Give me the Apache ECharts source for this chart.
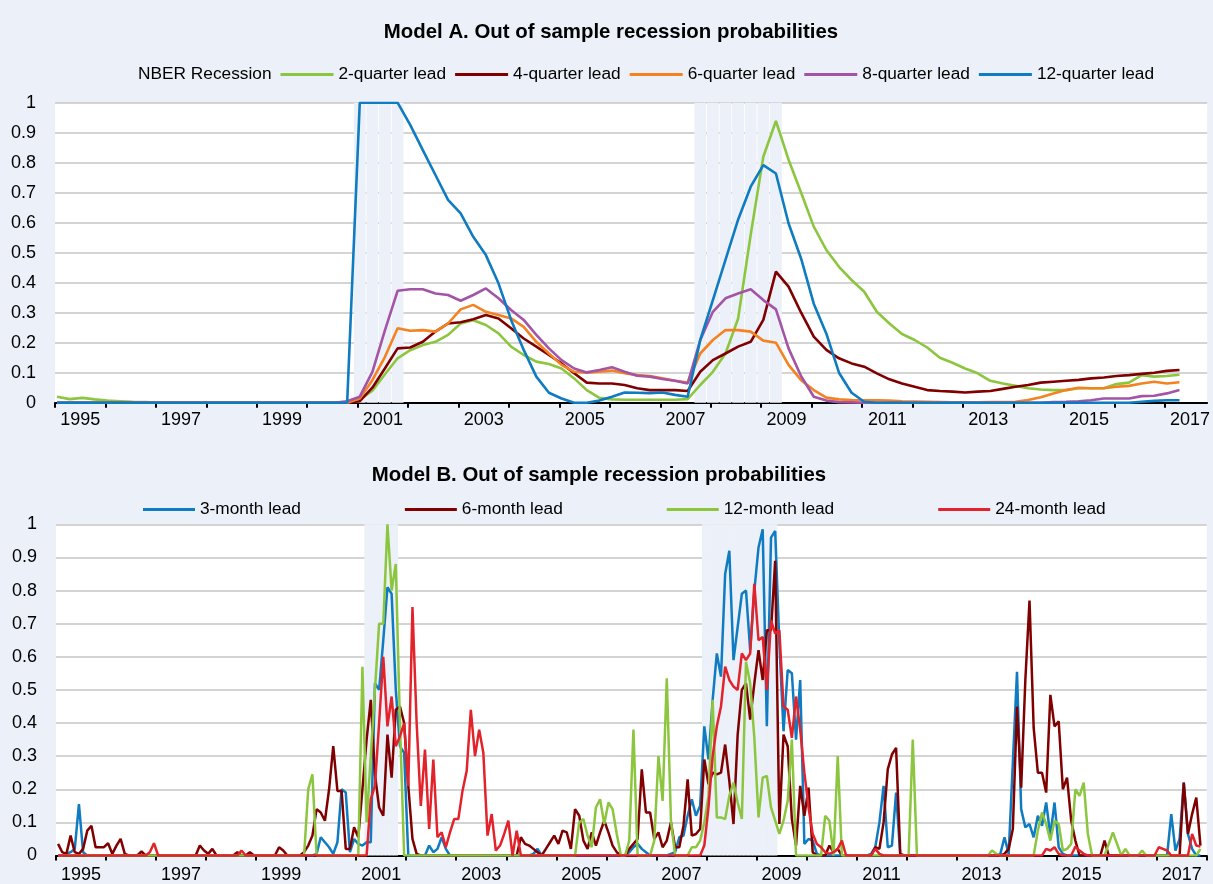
<!DOCTYPE html>
<html><head><meta charset="utf-8">
<script src="https://cdn.jsdelivr.net/npm/echarts@6/dist/echarts.min.js"></script>
<style>html,body{margin:0;padding:0;background:#ECF0F8}#c{width:1213px;height:884px}</style>
</head><body><div id="c"></div><script>
// ---------- DATA ----------
const quarterStartYear = 1995;   // quarterly series start 1995Q1
const monthStartYear = 1995;     // monthly series start 1995-01
const yearTicks = [1995,1996,1997,1998,1999,2000,2001,2002,2003,2004,2005,2006,2007,2008,2009,2010,2011,2012,2013,2014,2015,2016,2017];
const yearTicksB = yearTicks.concat([2018]);
const yearLabels = [1995,1997,1999,2001,2003,2005,2007,2009,2011,2013,2015,2017];

// Model A (quarterly), rows = years 1995..2017
const nberQuarters = ['2001Q1','2001Q2','2001Q3','2001Q4','2007Q4','2008Q1','2008Q2','2008Q3','2008Q4','2009Q1','2009Q2'];
const lead2q = [
 0.02,0.012,0.016,0.011, 0.007,0.005,0.003,0.002, 0,0,0,0, 0,0,0,0, 0,0,0,0, 0,0,0,0,
 0.01,0.04,0.095,0.148, 0.175,0.192,0.203,0.226, 0.264,0.275,0.259,0.231, 0.187,0.159,0.137,0.129,
 0.114,0.081,0.042,0.016, 0.011,0.01,0.01,0.01, 0.01,0.01,0.012,0.059, 0.103,0.164,0.28,0.56,
 0.82,0.939,0.81,0.70, 0.587,0.509,0.453,0.409, 0.37,0.303,0.264,0.229, 0.209,0.184,0.15,0.133,
 0.114,0.098,0.073,0.064, 0.056,0.048,0.044,0.042, 0.042,0.048,0.048,0.048, 0.062,0.067,0.092,0.087,
 0.089,0.093];
const lead4q = [
 0,0,0,0, 0,0,0,0, 0,0,0,0, 0,0,0,0, 0,0,0,0, 0,0,0,0,
 0.005,0.05,0.115,0.181, 0.184,0.203,0.237,0.264, 0.268,0.278,0.292,0.281, 0.248,0.214,0.187,0.159,
 0.131,0.098,0.067,0.064, 0.064,0.059,0.048,0.042, 0.042,0.042,0.039,0.103, 0.142,0.164,0.187,0.203,
 0.276,0.437,0.387,0.30, 0.22,0.176,0.148,0.131, 0.12,0.098,0.078,0.064, 0.053,0.042,0.039,0.037,
 0.034,0.037,0.039,0.046, 0.053,0.059,0.067,0.07, 0.073,0.076,0.081,0.084, 0.089,0.092,0.096,0.1,
 0.106,0.109];
const lead6q = [
 0,0,0,0, 0,0,0,0, 0,0,0,0, 0,0,0,0, 0,0,0,0, 0,0,0,0,
 0.014,0.075,0.153,0.248, 0.24,0.242,0.237,0.264, 0.311,0.326,0.303,0.292, 0.281,0.253,0.203,0.164,
 0.126,0.103,0.1,0.103, 0.107,0.098,0.092,0.089, 0.081,0.073,0.067,0.164, 0.209,0.242,0.242,0.237,
 0.207,0.2,0.126,0.075, 0.042,0.017,0.011,0.009, 0.008,0.008,0.007,0.005, 0.004,0.003,0.002,0.001,
 0.001,0.001,0.002,0.002, 0.003,0.009,0.018,0.031, 0.042,0.05,0.048,0.048, 0.053,0.056,0.064,0.07,
 0.064,0.068];
const lead8q = [
 0,0,0,0, 0,0,0,0, 0,0,0,0, 0,0,0,0, 0,0,0,0, 0,0,0,0.005,
 0.02,0.103,0.242,0.373, 0.378,0.378,0.364,0.359, 0.34,0.359,0.381,0.348, 0.309,0.276,0.226,0.181,
 0.142,0.114,0.101,0.109, 0.118,0.103,0.09,0.087, 0.079,0.073,0.064,0.209, 0.303,0.348,0.364,0.378,
 0.342,0.311,0.181,0.088, 0.02,0.007,0.002,0.001, 0,0,0,0, 0,0,0,0,
 0,0,0,0, 0,0,0,0.002, 0.003,0.005,0.008,0.014, 0.014,0.014,0.022,0.023,
 0.031,0.042];
const lead12q = [
 0,0,0,0, 0,0,0,0, 0,0,0,0, 0,0,0,0, 0,0,0,0, 0,0,0,0,
 1,1,1,1, 0.926,0.842,0.759,0.676, 0.631,0.553,0.492,0.398, 0.276,0.176,0.087,0.033,
 0.014,0,0,0.007, 0.02,0.034,0.033,0.032, 0.034,0.026,0.02,0.209, 0.342,0.476,0.61,0.72,
 0.792,0.764,0.598,0.48, 0.33,0.23,0.1,0.033, 0.003,0,0,0, 0,0,0,0,
 0,0,0,0, 0,0,0,0, 0,0,0,0, 0,0,0.003,0.006,
 0.008,0.008];

// Model B (monthly), one row per year 1995..2017
const nberMonthRanges = [['2001-03','2001-10'],['2007-12','2009-05']];
const z12 = [0,0,0,0,0,0,0,0,0,0,0,0];
const lead3m = [].concat(
 [0,0,0.005,0.01,0.02,0.155,0.01,0,0,0,0,0], z12, z12, z12, z12,
 [0,0,0.005,0.055,0.04,0.025,0.005,0.04,0.2,0.19,0.01,0.05],
 [0.035,0.03,0.04,0.04,0.52,0.5,0.65,0.81,0.79,0.5,0.33,0.31],
 [0,0,0,0,0,0.03,0.01,0.02,0.055,0.02,0,0], z12,
 [0,0,0,0,0,0,0.005,0.02,0,0,0,0], z12,
 [0,0,0,0,0,0.01,0.025,0.035,0.02,0.01,0,0],
 [0,0,0,0.005,0.01,0.055,0.06,0.12,0.17,0.12,0.15,0.39],
 [0.29,0.47,0.61,0.54,0.85,0.92,0.59,0.69,0.79,0.80,0.62,0.80],
 [0.93,0.985,0.39,0.96,0.98,0.64,0.375,0.56,0.55,0.35,0.53,0.035],
 [0.05,0.045,0.005,0,0,0,0,0,0,0,0,0],
 [0,0,0,0.005,0.025,0.1,0.21,0.025,0.03,0.19,0,0], z12,
 [0,0,0,0,0,0,0,0,0,0,0.005,0.055],
 [0.005,0.28,0.555,0.14,0.085,0.095,0.055,0.12,0.09,0.16,0.06,0.16],
 [0.025,0.005,0,0,0,0,0,0,0,0,0,0], z12,
 [0,0,0,0.125,0.015,0.05,0.22,0.065,0.02,0,0]);
const lead6m = [].concat(
 [0.035,0.01,0.005,0.06,0.01,0.005,0.02,0.075,0.09,0.025,0.025,0.025],
 [0.037,0.005,0.03,0.05,0.005,0,0,0,0.012,0,0,0],
 [0,0,0,0,0,0,0,0,0,0,0.03,0.015],
 [0.005,0.02,0,0,0,0,0,0.01,0,0,0.01,0],
 [0,0,0,0,0,0.025,0.015,0,0,0,0,0.01],
 [0.03,0.06,0.14,0.13,0.105,0.2,0.33,0.195,0.195,0.02,0.02,0.085],
 [0.055,0.2,0.35,0.47,0.245,0.145,0.12,0.365,0.235,0.44,0.45,0.40],
 [0.21,0.05,0.005,0,0,0,0,0,0,0,0,0], z12,
 [0,0,0,0.055,0.035,0.03,0.02,0.01,0,0.02,0.04,0.06],
 [0.035,0.075,0.07,0.02,0.14,0.12,0.045,0.02,0.07,0.03,0.07,0.105],
 [0.07,0.03,0.01,0,0,0.02,0.035,0.05,0.26,0.13,0.13,0.05],
 [0.07,0.025,0.045,0.1,0.025,0.025,0.09,0.23,0.06,0.065,0.08,0.29],
 [0.215,0.25,0.245,0.25,0.335,0.225,0.095,0.365,0.5,0.52,0.41,0.52],
 [0.62,0.53,0.68,0.68,0.89,0.095,0.365,0.33,0.11,0.03,0.21,0.12],
 [0.205,0.01,0,0,0,0.03,0.01,0.02,0,0,0,0],
 [0,0,0,0,0.025,0.02,0.1,0.26,0.305,0.325,0.005,0], z12,
 [0,0,0,0,0,0,0,0,0,0,0,0.005],
 [0.02,0.08,0.45,0.205,0.53,0.77,0.385,0.25,0.25,0.19,0.485,0.39],
 [0.405,0.2,0.235,0.105,0.045,0,0,0,0,0,0,0.045], z12,
 [0,0,0,0,0,0,0.22,0.065,0.125,0.175,0.03]);
const lead12m = [].concat(
 z12, z12, z12, z12, z12,
 [0.2,0.245,0,0,0,0,0,0,0,0,0,0],
 [0,0.57,0.1,0.3,0.5,0.7,0.7,1.0,0.8,0.88,0.4,0],
 z12, z12, z12,
 [0,0,0,0,0,0.1,0.11,0.06,0.025,0.145,0.17,0.095],
 [0.16,0.14,0.065,0,0,0.045,0.38,0,0,0,0,0.045],
 [0.3,0.165,0.535,0.105,0,0,0,0,0.025,0.025,0.045,0.1],
 [0.18,0.47,0.115,0.115,0.11,0.18,0.22,0.16,0.11,0.585,0.52,0.355],
 [0.115,0.235,0.24,0.145,0.105,0.065,0.105,0.165,0.35,0,0,0],
 [0,0,0,0,0.12,0.105,0,0.3,0,0,0,0], z12,
 [0,0.35,0,0,0,0,0,0,0,0,0,0],
 [0,0,0,0,0,0,0,0,0.015,0.005,0,0],
 [0,0,0,0,0,0,0,0.075,0.13,0.095,0.045,0.105],
 [0.095,0.015,0.02,0.035,0.2,0.18,0.22,0.065,0,0,0,0],
 [0.035,0.07,0.035,0,0.02,0,0,0,0.015,0,0,0],
 [0,0,0,0,0,0,0,0,0,0,0.02]);
const lead24m = [].concat(
 z12,
 [0,0,0,0,0,0,0,0,0,0,0.01,0.037], z12,
 [0,0,0,0,0,0,0,0,0.015,0,0,0], z12, z12,
 [0,0,0,0.17,0.21,0.4,0.6,0.39,0.48,0.33,0.36,0.4],
 [0.21,0.75,0.4,0.15,0.32,0.08,0.29,0.055,0.07,0.025,0.07,0.11],
 [0.11,0.195,0.255,0.44,0.3,0.38,0.31,0.06,0.125,0.015,0.03,0.065],
 [0.105,0,0.075,0,0,0,0,0,0,0,0,0], z12, z12,
 [0,0,0,0,0,0,0,0,0,0,0,0.03],
 [0.145,0.3,0.39,0.45,0.57,0.53,0.51,0.5,0.61,0.59,0.61,0.82],
 [0.65,0.66,0.5,0.71,0.67,0.68,0.45,0.44,0.355,0.48,0.38,0.25],
 [0.145,0.065,0.035,0.025,0.01,0.005,0.01,0.02,0.045,0,0,0],
 [0,0,0,0,0.02,0.005,0,0,0,0,0,0], z12, z12,
 [0,0,0,0,0,0,0,0,0,0.02,0.015,0.025],
 [0.005,0,0,0,0.027,0.015,0.005,0,0,0,0,0], z12,
 [0.025,0.02,0.015,0,0,0,0,0,0.065,0.03,0.027]);

// ---------- BUILD ----------
const FONT = "'Liberation Sans','Arial',sans-serif";
const BG = '#ECF0F8';
const C = {green:'#8CC63F', dred:'#800000', orange:'#F58220', purple:'#A354A6', blue:'#0F7BC1', red:'#E3232B'};
const qx = k => quarterStartYear + k/4 + 1/24;
const mx = j => monthStartYear + (j + 0.5)/12;
const qPos = s => { const y=+s.slice(0,4), q=+s.slice(5); return y + (q-1)/4 + 1/24; };
const mIndex = s => (+s.slice(0,4) - monthStartYear)*12 + (+s.slice(5)) - 1;
const nberMonthIdx = [];
nberMonthRanges.forEach(([a,b]) => { for (let j=mIndex(a); j<=mIndex(b); j++) nberMonthIdx.push(j); });

const qSeries = (name, vals, color) => ({name, type:'line', xAxisIndex:0, yAxisIndex:0, symbol:'none', showSymbol:false,
  lineStyle:{color, width:2.6}, itemStyle:{color}, z:3, data: vals.map((v,k)=>[qx(k), v])});
const mSeries = (name, vals, color) => ({name, type:'line', xAxisIndex:1, yAxisIndex:1, symbol:'none', showSymbol:false,
  lineStyle:{color, width:2.5}, itemStyle:{color}, z:3, data: vals.map((v,j)=>[mx(j), v])});

const AX_FS = 18;
const xAxisBase = (gi, max, ticks, margin) => ({type:'value', gridIndex:gi, min:1995, max,
  axisLine:{onZero:false, lineStyle:{color:'#000', width:2}},
  axisTick:{customValues:ticks, length:5, lineStyle:{color:'#000', width:2}},
  axisLabel:{customValues:yearLabels.map(y=>y+0.5), formatter:v=>String(Math.floor(v)), color:'#000', fontSize:AX_FS, fontFamily:FONT, margin},
  splitLine:{show:false}});
const yAxisBase = (gi) => ({type:'value', gridIndex:gi, min:0, max:1, interval:0.1,
  axisLine:{show:false}, axisTick:{show:false},
  axisLabel:{color:'#000', fontSize:AX_FS, fontFamily:FONT, margin:19},
  splitLine:{lineStyle:{color:'#C6C6C6', width:1.5}}});

const legendText = {color:'#000', fontSize:17.3, fontFamily:FONT};
const option = {
  backgroundColor: BG, animation:false,
  textStyle:{fontFamily:FONT, color:'#000'},
  title:[
    {text:'Model A. Out of sample recession probabilities', left:606, top:17, textAlign:'center',
     textStyle:{fontFamily:FONT, fontSize:20.4, fontWeight:'bold', color:'#000'}},
    {text:'Model B. Out of sample recession probabilities', left:594, top:460, textAlign:'center',
     textStyle:{fontFamily:FONT, fontSize:20.4, fontWeight:'bold', color:'#000'}}
  ],
  legend:[
    {data:['NBER Recession','2-quarter lead','4-quarter lead','6-quarter lead','8-quarter lead','12-quarter lead'],
     left:80, top:66, icon:'rect', itemWidth:53, itemHeight:3, itemGap:9, textStyle:legendText, padding:0},
    {data:['3-month lead','6-month lead','12-month lead','24-month lead'],
     left:143, top:501, icon:'rect', itemWidth:52, itemHeight:3, itemGap:104, textStyle:legendText, padding:0}
  ],
  grid:[
    {left:55, top:102.7, width:1155.7, height:300, show:true, backgroundColor:'#fff', borderWidth:0},
    {left:56, top:524.3, width:1150.7, height:334, show:true, backgroundColor:'#fff', borderWidth:0}
  ],
  xAxis:[ xAxisBase(0, 2017.84, yearTicks, 8), xAxisBase(1, 2018, yearTicksB, 10.5) ],
  yAxis:[ yAxisBase(0), yAxisBase(1) ],
  series:[
    {name:'NBER Recession', type:'bar', xAxisIndex:0, yAxisIndex:0, barWidth:11.8, z:1,
     itemStyle:{color:BG}, data: nberQuarters.map(s=>[qPos(s), 1])},
    qSeries('2-quarter lead', lead2q, C.green),
    qSeries('4-quarter lead', lead4q, C.dred),
    qSeries('6-quarter lead', lead6q, C.orange),
    qSeries('8-quarter lead', lead8q, C.purple),
    qSeries('12-quarter lead', lead12q, C.blue),
    {name:'NBER Recession (monthly)', type:'bar', xAxisIndex:1, yAxisIndex:1, barWidth:4.6, z:1,
     itemStyle:{color:BG}, data: nberMonthIdx.map(j=>[mx(j), 1])},
    mSeries('3-month lead', lead3m, C.blue),
    mSeries('6-month lead', lead6m, C.dred),
    mSeries('12-month lead', lead12m, C.green),
    mSeries('24-month lead', lead24m, C.red)
  ]
};
const chart = echarts.init(document.getElementById('c'), null, {renderer:'canvas'});
chart.setOption(option);
</script></body></html>
